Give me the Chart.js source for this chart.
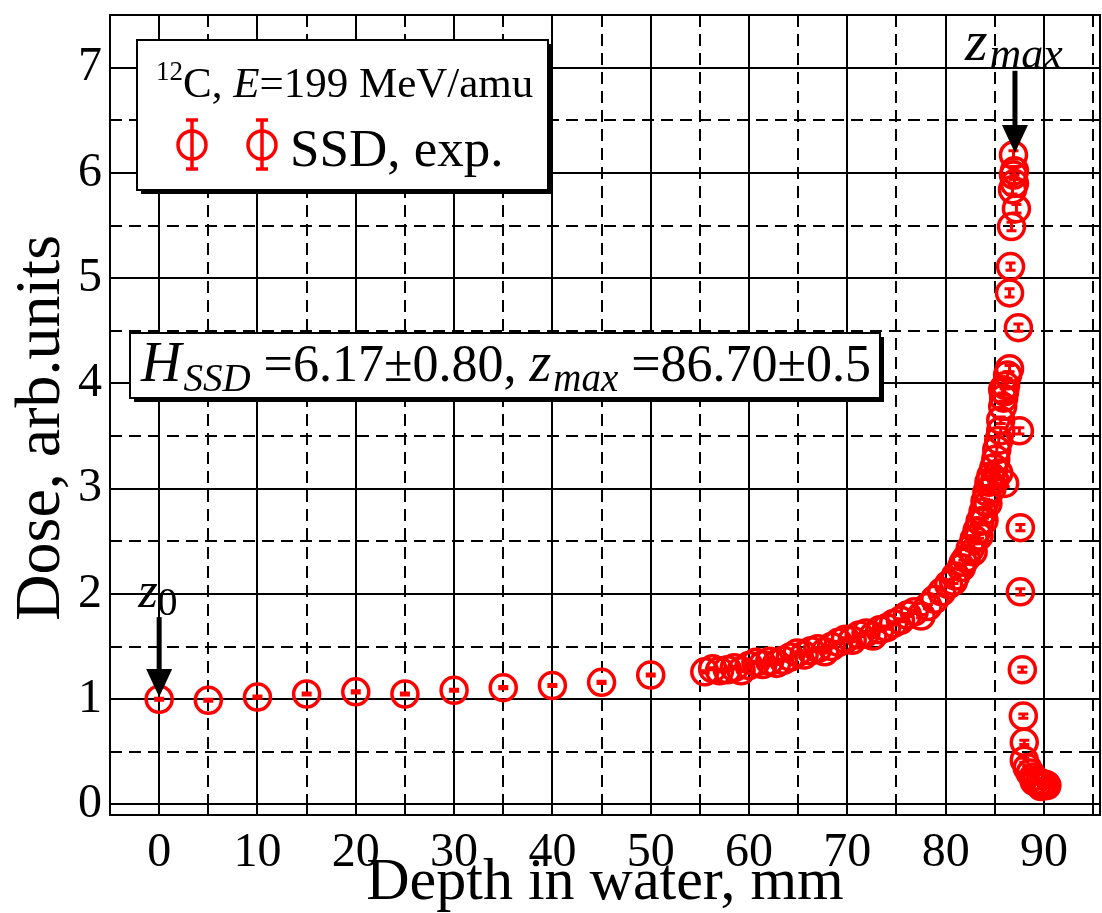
<!DOCTYPE html>
<html>
<head>
<meta charset="utf-8">
<script src="https://cdn.jsdelivr.net/npm/chart.js@4/dist/chart.umd.min.js"></script>
<style>
  html, body { margin: 0; padding: 0; background: #fff; }
</style>
</head>
<body>
<canvas id="myChart" width="1102" height="913"></canvas>
<script>
// depth in water, mm
const depth = [
  0, 5, 10, 15, 20, 25, 30, 35, 40, 45, 50,
  55.5, 56.3, 57.0, 57.8, 58.5, 59.2, 60.0, 60.7, 61.4, 62.1,
  62.8, 63.5, 64.2, 64.9, 65.6, 66.3, 67.0, 67.7, 68.4, 69.1,
  69.8, 70.5, 71.2, 71.9, 72.6, 73.3, 74.0, 74.7, 75.4, 76.1,
  76.8, 77.5, 78.2, 78.9, 79.6, 80.3, 81.0, 81.6, 82.1, 82.5,
  82.9, 83.2, 83.5, 83.8, 84.0, 84.2, 84.4, 84.6, 84.9, 85.1,
  85.2, 85.4, 85.6, 85.6, 85.8, 85.9, 86.0, 85.8, 86.1, 86.3,
  86.5,
  86.0, 87.5, 87.4, 86.5, 86.6, 86.7, 87.2, 86.8, 87.0, 86.9, 87.0, 86.9,
  87.6, 87.6, 87.8, 87.9, 88.0, 88.0, 88.3, 88.6, 88.9, 89.2, 89.5, 89.8, 90.0, 90.2,
  80.8, 81.8, 82.8, 83.4, 83.9, 84.3, 84.7, 85.0, 85.4, 89.0, 89.7, 90.3
];
// dose, arb. units
const dose = [
  1.00, 0.99, 1.02, 1.05, 1.07, 1.05, 1.085, 1.11, 1.13, 1.16, 1.23,
  1.26, 1.29, 1.27, 1.28, 1.30, 1.27, 1.32, 1.35, 1.33, 1.36,
  1.34, 1.37, 1.40, 1.44, 1.42, 1.46, 1.48, 1.45, 1.50, 1.54,
  1.57, 1.56, 1.61, 1.63, 1.60, 1.66, 1.68, 1.72, 1.75, 1.80,
  1.83, 1.79, 1.88, 1.95, 2.02, 2.09, 2.17, 2.25, 2.34, 2.43,
  2.52, 2.60, 2.69, 2.78, 2.88, 2.97, 3.06, 3.12, 3.20, 3.28,
  3.37, 3.46, 3.55, 3.65, 3.78, 3.86, 3.92, 3.94, 3.98, 4.08,
  4.14,
  3.05, 3.55, 4.53, 4.86, 5.11, 5.49, 5.66, 5.84, 5.90, 5.98, 6.02, 6.17,
  2.63, 2.02, 1.28, 0.84, 0.59, 0.42, 0.35, 0.30, 0.26, 0.23, 0.21, 0.20, 0.19, 0.19,
  2.12, 2.30, 2.40, 2.55, 2.70, 2.86, 3.00, 3.08, 3.15, 0.22, 0.17, 0.18
];
// dose error
const doseErr = [
  0.01, 0.01, 0.01, 0.01, 0.01, 0.01, 0.01, 0.01, 0.01, 0.01, 0.01,
  0.01, 0.01, 0.01, 0.01, 0.01, 0.01, 0.01, 0.01, 0.01, 0.01,
  0.01, 0.01, 0.01, 0.01, 0.01, 0.01, 0.01, 0.01, 0.01, 0.01,
  0.015, 0.015, 0.015, 0.015, 0.015, 0.015, 0.015, 0.015, 0.015, 0.015,
  0.015, 0.015, 0.02, 0.02, 0.02, 0.02, 0.02, 0.02, 0.02, 0.02,
  0.02, 0.02, 0.02, 0.02, 0.02, 0.02, 0.03, 0.03, 0.03, 0.03,
  0.03, 0.03, 0.03, 0.03, 0.03, 0.03, 0.03, 0.03, 0.03, 0.03,
  0.03,
  0.03, 0.03, 0.035, 0.04, 0.035, 0.04, 0.04, 0.04, 0.04, 0.04, 0.04, 0.04,
  0.03, 0.03, 0.025, 0.02, 0.02, 0.02, 0.02, 0.02, 0.02, 0.02, 0.02, 0.02, 0.02, 0.02,
  0.02, 0.02, 0.02, 0.02, 0.02, 0.03, 0.03, 0.03, 0.03, 0.02, 0.02, 0.02
];
const xTickLabels = [0, 10, 20, 30, 40, 50, 60, 70, 80, 90];
const yTickLabels = [0, 1, 2, 3, 4, 5, 6, 7];
const legendLine1 = ["12", "C, ", "E", "=199 MeV/amu"];
const seriesName = "SSD, exp.";
const fitText = ["H", "SSD", " =6.17\u00b10.80, ", "z", "max", " =86.70\u00b10.5"];
const zMax = 86.7;

const serif = "'Liberation Serif', 'Times New Roman', serif";
const red = "#ff0000";

function runs(ctx, parts, x, y) {
  parts.forEach(p => {
    ctx.font = p.font;
    ctx.fillText(p.t, x, y + (p.dy || 0));
    x += ctx.measureText(p.t).width + (p.gap || 0);
  });
}

function boxWithShadow(ctx, x, y, w, h) {
  ctx.fillStyle = "#000";
  ctx.fillRect(x + 4, y + 4, w, h);
  ctx.fillStyle = "#fff";
  ctx.fillRect(x, y, w, h);
  ctx.strokeStyle = "#000";
  ctx.lineWidth = 2;
  ctx.setLineDash([]);
  ctx.strokeRect(x, y, w, h);
}

function arrow(ctx, px, top, tip) {
  ctx.strokeStyle = "#000";
  ctx.fillStyle = "#000";
  ctx.lineWidth = 5;
  ctx.setLineDash([]);
  ctx.beginPath();
  ctx.moveTo(px, top);
  ctx.lineTo(px, tip - 24);
  ctx.stroke();
  ctx.beginPath();
  ctx.moveTo(px - 13, tip - 28);
  ctx.lineTo(px + 13, tip - 28);
  ctx.lineTo(px, tip);
  ctx.closePath();
  ctx.fill();
}

function noPadding(s) {
  s.paddingLeft = 0;
  s.paddingRight = 0;
  s.paddingTop = 0;
  s.paddingBottom = 0;
}

const gridPlugin = {
  id: "gridFrame",
  beforeDatasetsDraw(chart) {
    const { ctx, chartArea: a, scales: { x, y } } = chart;
    ctx.save();
    ctx.strokeStyle = "#000";
    ctx.lineWidth = 2;
    ctx.beginPath();
    ctx.rect(a.left, a.top, a.width, a.height);
    ctx.clip();
    for (let v = -5; v <= 95; v += 5) {
      const px = Math.round(x.getPixelForValue(v));
      const major = v % 10 === 0;
      ctx.setLineDash(major ? [] : [12, 7]);
      ctx.beginPath();
      ctx.moveTo(px, a.top);
      ctx.lineTo(px, a.bottom);
      ctx.stroke();
      // inner ticks on frame
      ctx.setLineDash([]);
      const len = major ? 22 : 11;
      ctx.beginPath();
      ctx.moveTo(px, a.bottom); ctx.lineTo(px, a.bottom - len);
      ctx.moveTo(px, a.top); ctx.lineTo(px, a.top + len);
      ctx.stroke();
    }
    for (let v = 0; v <= 7.5; v += 0.5) {
      const py = Math.round(y.getPixelForValue(v));
      const major = v % 1 === 0;
      ctx.setLineDash(major ? [] : [12, 7]);
      ctx.beginPath();
      ctx.moveTo(a.left, py);
      ctx.lineTo(a.right, py);
      ctx.stroke();
      ctx.setLineDash([]);
      const len = major ? 22 : 11;
      ctx.beginPath();
      ctx.moveTo(a.left, py); ctx.lineTo(a.left + len, py);
      ctx.moveTo(a.right, py); ctx.lineTo(a.right - len, py);
      ctx.stroke();
    }
    ctx.restore();
  },
  afterDatasetsDraw(chart) {
    const { ctx, chartArea: a, scales: { x, y } } = chart;
    ctx.save();
    // error bars
    ctx.strokeStyle = red;
    ctx.lineWidth = 3;
    ctx.setLineDash([]);
    depth.forEach((d, i) => {
      const px = x.getPixelForValue(d);
      const y1 = y.getPixelForValue(dose[i] - doseErr[i]);
      const y2 = y.getPixelForValue(dose[i] + doseErr[i]);
      ctx.beginPath();
      ctx.moveTo(px, y1); ctx.lineTo(px, y2);
      ctx.moveTo(px - 5, y1); ctx.lineTo(px + 5, y1);
      ctx.moveTo(px - 5, y2); ctx.lineTo(px + 5, y2);
      ctx.stroke();
    });

    // frame
    ctx.strokeStyle = "#000";
    ctx.lineWidth = 2;
    ctx.strokeRect(a.left, a.top, a.width, a.height);

    // arrows z0 and zmax
    const ax0 = x.getPixelForValue(0);
    arrow(ctx, ax0, y.getPixelForValue(1.78), y.getPixelForValue(1.02));
    const axm = x.getPixelForValue(zMax + 0.35);
    arrow(ctx, axm, y.getPixelForValue(6.97), y.getPixelForValue(6.19));

    ctx.fillStyle = "#000";
    ctx.textBaseline = "alphabetic";
    ctx.textAlign = "left";
    runs(ctx, [
      { t: "z", font: "italic 50px " + serif },
      { t: "0", font: "40px " + serif, dy: 8 }
    ], ax0 - 21, y.getPixelForValue(1.88));
    runs(ctx, [
      { t: "z", font: "italic 58px " + serif, gap: 2 },
      { t: "max", font: "italic 44px " + serif, dy: 8 }
    ], axm - 50, y.getPixelForValue(7.0) - 8);

    // legend box
    boxWithShadow(ctx, 137, 40, 411, 150);
    ctx.fillStyle = "#000";
    runs(ctx, [
      { t: legendLine1[0], font: "27px " + serif, dy: -17 },
      { t: legendLine1[1], font: "43px " + serif },
      { t: legendLine1[2], font: "italic 43px " + serif },
      { t: legendLine1[3], font: "43px " + serif }
    ], 156, 97);
    [192, 262].forEach(cx => {
      ctx.strokeStyle = red;
      ctx.lineWidth = 3.5;
      ctx.beginPath();
      ctx.arc(cx, 145, 14, 0, Math.PI * 2);
      ctx.stroke();
      ctx.beginPath();
      ctx.moveTo(cx, 119); ctx.lineTo(cx, 170);
      ctx.moveTo(cx - 6, 120); ctx.lineTo(cx + 6, 120);
      ctx.moveTo(cx - 6, 169); ctx.lineTo(cx + 6, 169);
      ctx.stroke();
    });
    ctx.fillStyle = "#000";
    ctx.font = "53px " + serif;
    ctx.fillText(seriesName, 290, 166);

    // fit result box
    boxWithShadow(ctx, 130, 333, 750, 65);
    ctx.fillStyle = "#000";
    runs(ctx, [
      { t: fitText[0], font: "italic 56px " + serif, gap: 2 },
      { t: fitText[1], font: "italic 39px " + serif, dy: 10 },
      { t: fitText[2], font: "52px " + serif },
      { t: fitText[3], font: "italic 56px " + serif, gap: 2 },
      { t: fitText[4], font: "italic 39px " + serif, dy: 10 },
      { t: fitText[5], font: "52px " + serif }
    ], 141, 381);
    ctx.restore();
  }
};

const config = {
  type: "scatter",
  data: {
    datasets: [
      {
        label: seriesName,
        data: depth.map((d, i) => ({ x: d, y: dose[i] })),
        pointStyle: "circle",
        pointRadius: 13,
        pointHoverRadius: 13,
        pointBorderWidth: 3.5,
        pointBorderColor: red,
        pointBackgroundColor: "rgba(0,0,0,0)",
        showLine: false
      }
    ]
  },
  options: {
    responsive: false,
    animation: false,
    devicePixelRatio: 1,
    layout: { autoPadding: false, padding: { top: 15, right: 2, left: 0, bottom: 0 } },
    plugins: {
      legend: { display: false },
      tooltip: { enabled: false }
    },
    scales: {
      x: {
        type: "linear",
        min: -5,
        max: 95.7,
        afterBuildTicks: s => { s.ticks = xTickLabels.map(v => ({ value: v })); },
        afterFit: s => { s.height = 98; noPadding(s); },
        grid: { display: false, drawTicks: false },
        border: { display: false },
        ticks: {
          color: "#000",
          padding: 10,
          maxRotation: 0,
          autoSkip: false,
          font: { family: serif, size: 48 }
        },
        title: {
          display: true,
          text: "Depth in water, mm",
          color: "#000",
          padding: { top: 0, bottom: 0 },
          font: { family: serif, size: 60, lineHeight: 1 }
        }
      },
      y: {
        type: "linear",
        min: -0.1,
        max: 7.5,
        afterBuildTicks: s => { s.ticks = yTickLabels.map(v => ({ value: v })); },
        afterFit: s => { s.width = 110; noPadding(s); },
        grid: { display: false, drawTicks: false },
        border: { display: false },
        ticks: {
          color: "#000",
          padding: 8,
          autoSkip: false,
          font: { family: serif, size: 48 }
        },
        title: {
          display: true,
          text: "Dose, arb.units\u2009\u2009",
          color: "#000",
          padding: { top: 10, bottom: 0 },
          font: { family: serif, size: 64, lineHeight: 1 }
        }
      }
    }
  },
  plugins: [gridPlugin]
};

const ctx = document.getElementById("myChart").getContext("2d");
new Chart(ctx, config);
</script>
</body>
</html>
